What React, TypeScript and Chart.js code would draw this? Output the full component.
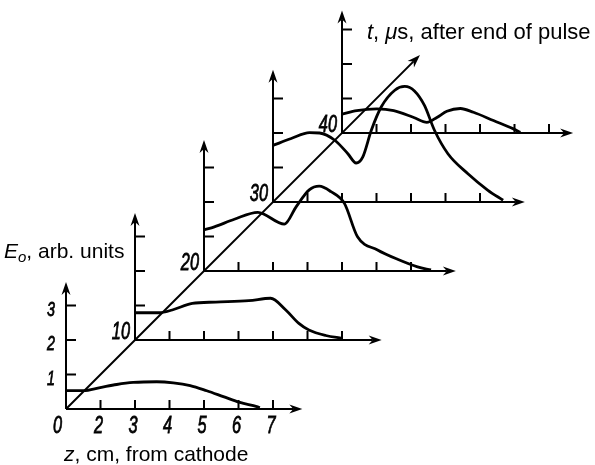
import React, { useEffect, useRef } from 'react';
import { Chart, registerables } from 'chart.js';
Chart.register(...registerables);

// ---- data ----
const zTickLabels = ['0', '2', '3', '4', '5', '6', '7'];
const eTickLabels = ['1', '2', '3'];
const times = [0, 10, 20, 30, 40];
const timeLabels = ['', '10', '20', '30', '40'];

const z0 = [0, 0.5, 0.99, 1.47, 1.95, 2.63, 3.11, 3.6, 4.08, 4.56, 5.04, 5.53, 5.62];
const e0 = [0.53, 0.53, 0.62, 0.71, 0.77, 0.79, 0.76, 0.68, 0.53, 0.36, 0.19, 0.07, 0.04];

const z10 = [0, 0.7, 1.08, 1.66, 2.34, 3.3, 3.93, 4.37, 4.75, 5.04, 5.53, 6.0];
const e10 = [0.79, 0.79, 0.87, 1.06, 1.1, 1.14, 1.21, 0.87, 0.48, 0.29, 0.13, 0.05];

const z20 = [0, 0.3, 0.88, 1.56, 2.33, 2.67, 3.05, 3.34, 3.68, 4.07, 4.45, 5.03, 5.61, 6.19, 6.58];
const e20 = [1.19, 1.28, 1.5, 1.7, 1.36, 1.86, 2.35, 2.46, 2.3, 1.96, 0.99, 0.61, 0.34, 0.12, 0.03];

const z30 = [0, 0.53, 1.06, 1.35, 1.79, 2.17, 2.41, 2.6, 2.85, 3.14, 3.53, 3.82, 4.1, 4.39, 4.68, 5.07, 5.65, 6.23, 6.67];
const e30 = [1.64, 1.84, 2.01, 2.0, 1.79, 1.4, 1.13, 1.3, 2.08, 2.76, 3.24, 3.35, 3.22, 2.8, 2.08, 1.4, 0.82, 0.34, 0.05];

const z40 = [0, 0.43, 1.01, 1.5, 2.08, 2.46, 2.75, 3.04, 3.43, 3.81, 4.39, 4.97, 5.17];
const e40 = [0.55, 0.65, 0.7, 0.65, 0.45, 0.31, 0.45, 0.63, 0.71, 0.6, 0.36, 0.12, 0.02];

const curvesZ = [z0, z10, z20, z30, z40];
const curvesE = [e0, e10, e20, e30, e40];

// ---- layout ----
const W = 595;
const H = 465;
const ORIGIN_X = 66;
const ORIGIN_Y = 409;
const UNIT = 34.5; // px per unit
const SHIFT_PER_10US = 2; // oblique t-axis: 10 us -> 2 units right and up
const zAxisLen = [6.85, 7.15, 7.3, 7.3, 6.7];
const eAxisLen = [3.68, 3.68, 3.8, 3.83, 3.55];
const tAxisEnd = 51.3; // us
const TICK = 10;

const NUM_FONT = 'italic 24px "Liberation Sans", Arial, sans-serif';
const NUM_SCALE = 0.68;
const ETICK_FONT = 'italic 21px "Liberation Sans", Arial, sans-serif';
const TXT = '21px "Liberation Sans", Arial, sans-serif';
const TXT_I = 'italic 21px "Liberation Sans", Arial, sans-serif';
const TXT_T = '22px "Liberation Sans", Arial, sans-serif';
const TXT_TI = 'italic 22px "Liberation Sans", Arial, sans-serif';

const shiftOf = (t: number) => (t / 10) * SHIFT_PER_10US;

function arrow(ctx: CanvasRenderingContext2D, x1: number, y1: number, x2: number, y2: number) {
  const len = 13, half = 4.5;
  const a = Math.atan2(y2 - y1, x2 - x1);
  const c = Math.cos(a), s = Math.sin(a);
  ctx.beginPath();
  ctx.moveTo(x1, y1);
  ctx.lineTo(x2 - (len - 4) * c, y2 - (len - 4) * s);
  ctx.stroke();
  ctx.beginPath();
  ctx.moveTo(x2, y2);
  ctx.lineTo(x2 - len * c - half * s, y2 - len * s + half * c);
  ctx.lineTo(x2 - (len - 4) * c, y2 - (len - 4) * s);
  ctx.lineTo(x2 - len * c + half * s, y2 - len * s - half * c);
  ctx.closePath();
  ctx.fill();
}

// narrow italic digits (drafting style), slightly emboldened
function num(ctx: CanvasRenderingContext2D, text: string, x: number, y: number, align: 'left' | 'right' | 'center', font = NUM_FONT) {
  ctx.save();
  ctx.translate(x, y);
  ctx.scale(NUM_SCALE, 1);
  ctx.font = font;
  ctx.textAlign = align;
  ctx.textBaseline = 'alphabetic';
  ctx.lineWidth = 0.8;
  ctx.strokeText(text, 0, 0);
  ctx.fillText(text, 0, 0);
  ctx.restore();
}

type Part = { text: string; font: string; dy?: number };
function rich(ctx: CanvasRenderingContext2D, parts: Part[], x: number, y: number) {
  let cx = x;
  ctx.textAlign = 'left';
  ctx.textBaseline = 'alphabetic';
  for (const p of parts) {
    ctx.font = p.font;
    ctx.fillText(p.text, cx, y + (p.dy || 0));
    cx += ctx.measureText(p.text).width;
  }
}

const panelPlugin = {
  id: 'panels',
  beforeDatasetsDraw(chart: any) {
    const ctx: CanvasRenderingContext2D = chart.ctx;
    const sx = chart.scales.x, sy = chart.scales.y;
    const px = (v: number) => sx.getPixelForValue(v);
    const py = (v: number) => sy.getPixelForValue(v);
    ctx.save();
    ctx.strokeStyle = '#000';
    ctx.fillStyle = '#000';
    ctx.lineWidth = 2;
    times.forEach((t, i) => {
      const off = shiftOf(t);
      const ox = px(off), oy = py(off);
      arrow(ctx, ox, oy, px(off + zAxisLen[i]), oy);
      arrow(ctx, ox, oy, ox, py(off + eAxisLen[i]));
      ctx.beginPath();
      for (let k = 1; k < zTickLabels.length; k++) {
        if (k > zAxisLen[i] - 0.5) break;
        const x = px(off + k);
        ctx.moveTo(x, oy);
        ctx.lineTo(x, oy - TICK + 1);
      }
      for (let k = 1; k <= eTickLabels.length; k++) {
        const y = py(off + k);
        ctx.moveTo(ox, y);
        ctx.lineTo(ox + TICK, y);
      }
      ctx.stroke();
      if (timeLabels[i]) num(ctx, timeLabels[i], ox - 5, oy - 1, 'right');
    });
    // t axis
    arrow(ctx, px(0), py(0), px(shiftOf(tAxisEnd)), py(shiftOf(tAxisEnd)));

    // base tick labels
    const x0 = px(0), y0 = py(0);
    zTickLabels.forEach((lab, k) => {
      if (k === 0) num(ctx, lab, x0 - 4, y0 + 24, 'right');
      else num(ctx, lab, px(k) - 2, y0 + 24, 'center');
    });
    eTickLabels.forEach((lab, k) => {
      num(ctx, lab, x0 - 11, py(k + 1) + 10, 'right', ETICK_FONT);
    });

    // titles
    rich(ctx, [
      { text: 'z', font: TXT_I },
      { text: ', cm, from cathode', font: TXT },
    ], x0 - 2, y0 + 52);
    const eTop = py(eAxisLen[0]);
    rich(ctx, [
      { text: 'E', font: TXT_I },
      { text: 'o', font: 'italic 15px "Liberation Sans", Arial, sans-serif', dy: 4 },
      { text: ', arb. units', font: TXT },
    ], x0 - 62, eTop - 24);
    const tx = px(shiftOf(tAxisEnd)), ty = py(shiftOf(tAxisEnd));
    rich(ctx, [
      { text: 't', font: TXT_TI },
      { text: ', ', font: TXT_T },
      { text: 'μ', font: TXT_TI },
      { text: 's, after end of pulse', font: TXT_T },
    ], tx - 53, ty - 16);
    ctx.restore();
  },
};

export default function App() {
  const ref = useRef<HTMLCanvasElement>(null);
  useEffect(() => {
    if (!ref.current) return;
    const datasets = times.map((t, i) => {
      const off = shiftOf(t);
      return {
        label: `t=${t}`,
        data: curvesZ[i].map((z, j) => ({ x: z + off, y: curvesE[i][j] + off })),
        borderColor: '#000',
        borderWidth: 2.8,
        pointRadius: 0,
        fill: false,
        cubicInterpolationMode: 'monotone' as const,
        tension: 0.4,
      };
    });
    const chart = new Chart(ref.current, {
      type: 'line',
      data: { datasets },
      options: {
        responsive: false,
        animation: false,
        parsing: false as any,
        layout: { padding: 0 },
        plugins: { legend: { display: false }, tooltip: { enabled: false } },
        scales: {
          x: { type: 'linear', display: false, min: -ORIGIN_X / UNIT, max: (W - ORIGIN_X) / UNIT },
          y: { type: 'linear', display: false, min: -(H - ORIGIN_Y) / UNIT, max: ORIGIN_Y / UNIT },
        },
      },
      plugins: [panelPlugin],
    });
    return () => chart.destroy();
  }, []);
  return (
    <div style={{ position: 'fixed', left: 0, top: 0, width: W, height: H, background: '#fff' }}>
      <canvas ref={ref} width={W} height={H} style={{ display: 'block' }} />
    </div>
  );
}
